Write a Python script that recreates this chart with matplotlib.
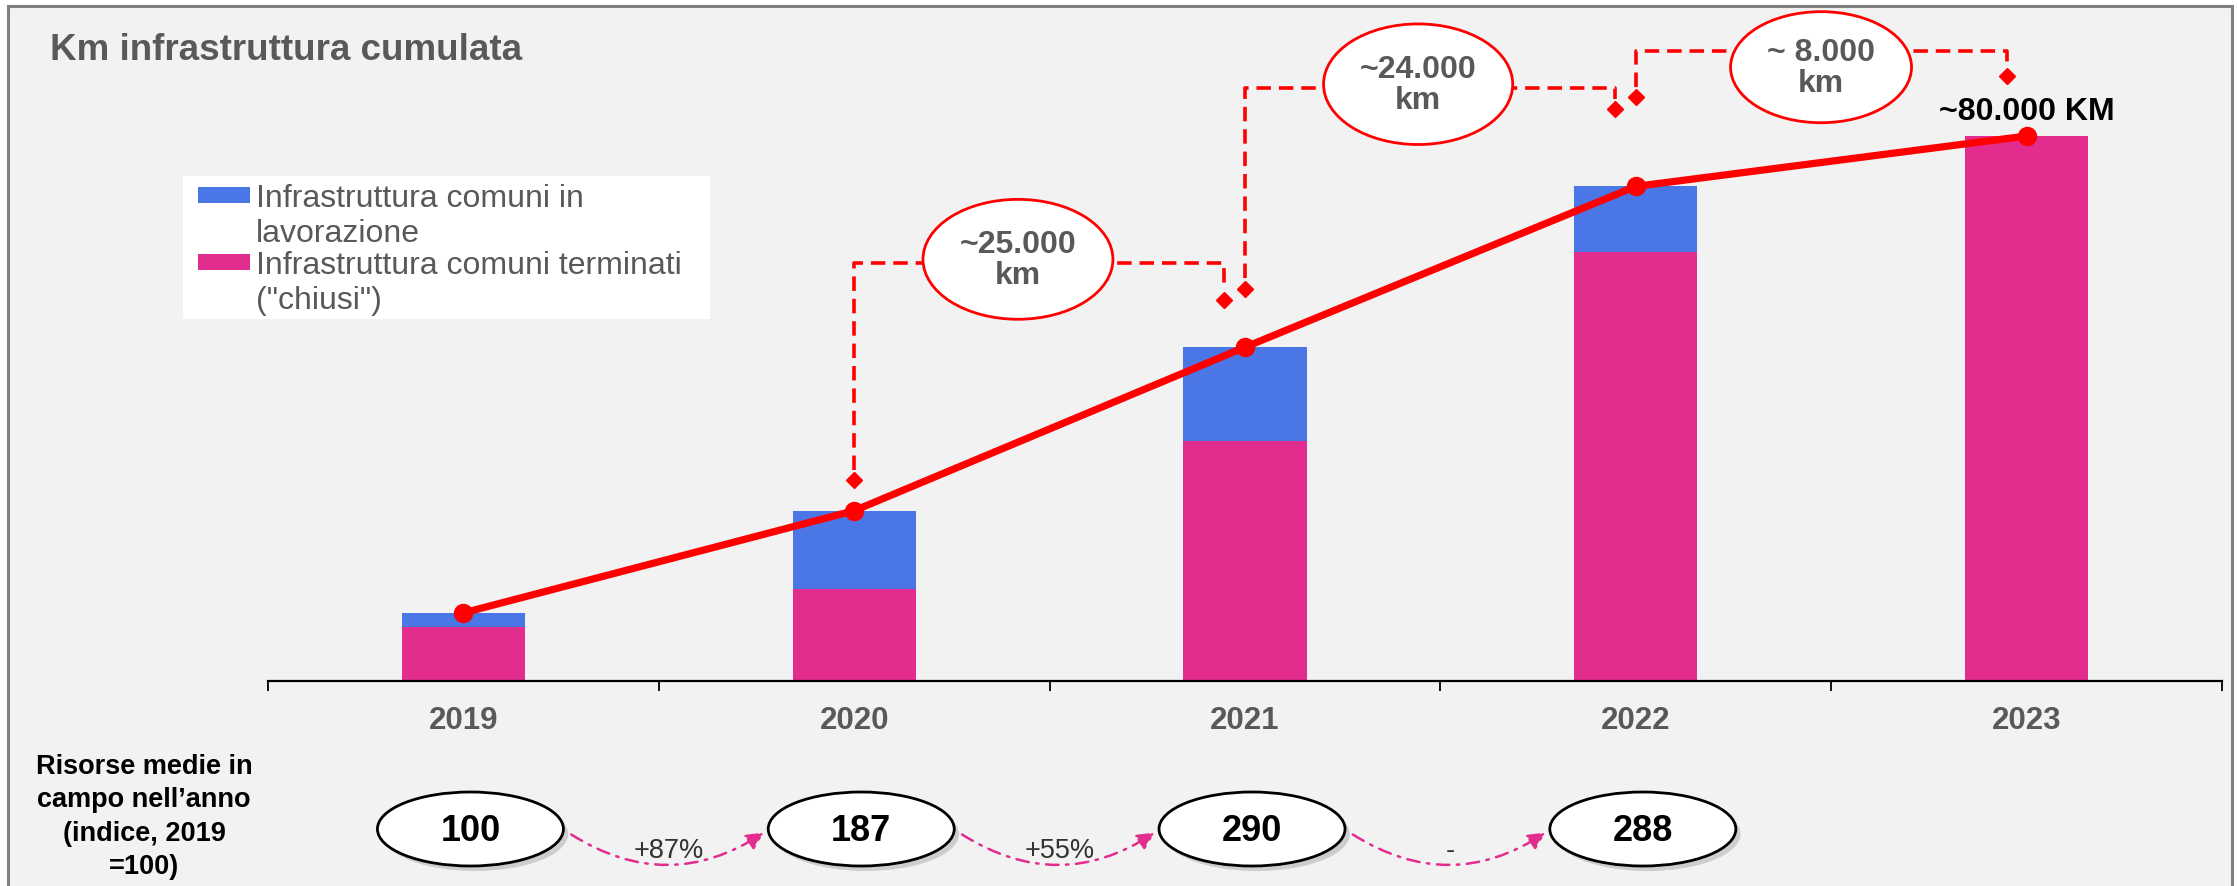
import matplotlib
matplotlib.use('Agg')
import matplotlib.pyplot as plt
from matplotlib.patches import Ellipse, Rectangle, FancyArrowPatch
from matplotlib.transforms import blended_transform_factory
import numpy as np

plt.rcParams['font.family'] = ['Liberation Sans', 'DejaVu Sans']

# ---------------------------------------------------
# Data (km cumulati)
# ---------------------------------------------------
years = ['2019', '2020', '2021', '2022', '2023']
km_chiusi = [8000, 13500, 35300, 62900, 80000]       # comuni terminati ("chiusi")
km_lavorazione = [2000, 11500, 13700, 9700, 0]       # comuni in lavorazione
km_totale = [a + b for a, b in zip(km_chiusi, km_lavorazione)]

delta_labels = ['~25.000\nkm', '~24.000\nkm', '~ 8.000\nkm']
total_label = '~80.000 KM'

risorse = ['100', '187', '290', '288']
risorse_var = ['+87%', '+55%', '-']

legend_labels = [['Infrastruttura comuni in', 'lavorazione'],
                 ['Infrastruttura comuni terminati', '("chiusi")']]

PINK = '#e32d8e'
BLUE = '#4a77e5'
GREY = '#595959'

W, H = 2237, 887
fig = plt.figure(figsize=(W / 100, H / 100), dpi=100)
fig.patch.set_facecolor('white')

# ---------------------------------------------------
# background / overlay in pixel coords
# ---------------------------------------------------
bg = fig.add_axes([0, 0, 1, 1], zorder=0)
bg.set_xlim(0, W)
bg.set_ylim(H, 0)
bg.axis('off')
bg.add_patch(Rectangle((8, 7), 2224, 900, facecolor='#f2f2f2',
                       edgecolor='#808080', lw=2.2))

bg.text(50, 50, 'Km infrastruttura cumulata', fontsize=26.5, fontweight='bold',
        color=GREY, va='center', ha='left')

# legend box
bg.add_patch(Rectangle((183, 177), 527, 143, facecolor='white', edgecolor='none'))
for k, (col, lines) in enumerate(zip([BLUE, PINK], legend_labels)):
    y0 = 199 + k * 67
    bg.add_patch(Rectangle((198, y0 - 11), 52, 16, facecolor=col, edgecolor='none'))
    bg.text(256, y0, lines[0], fontsize=23, color=GREY, va='center', ha='left')
    bg.text(256, y0 + 35, lines[1], fontsize=23, color=GREY, va='center', ha='left')

# ---------------------------------------------------
# main chart
# ---------------------------------------------------
base_px, top_px = 682, 40
km_per_px = 80000 / 545.0
ax = fig.add_axes([268 / W, (H - base_px) / H, (2222 - 268) / W, (base_px - top_px) / H],
                  zorder=2)
ax.set_facecolor('none')
x = np.arange(len(years))
ax.set_xlim(-0.5, len(years) - 0.5)
ax.set_ylim(0, (base_px - top_px) * km_per_px)

ax.bar(x, km_chiusi, width=0.315, color=PINK, zorder=2)
ax.bar(x, km_lavorazione, bottom=km_chiusi, width=0.315, color=BLUE, zorder=2)
ax.plot(x, km_totale, '-o', color='red', lw=5.2, ms=13, zorder=4, clip_on=False)

for s in ['left', 'right', 'top']:
    ax.spines[s].set_visible(False)
ax.spines['bottom'].set_linewidth(1.6)
ax.set_yticks([])
ax.set_xticks(x)
ax.set_xticklabels(years, fontsize=22.5, fontweight='bold', color=GREY)
ax.tick_params(axis='x', which='major', length=0, pad=17)
ax.set_xticks(np.arange(-0.5, len(years), 1), minor=True)
ax.tick_params(axis='x', which='minor', length=7.5, width=1.3, direction='out')

# brackets with deltas
def bracket(x0, y0, x1, y1, ytop):
    ax.plot([x0, x0, x1, x1], [y0 + 1500, ytop, ytop, y1 + 1500], color='red',
            lw=2.6, dashes=(4, 2.2), clip_on=False, zorder=3)
    ax.plot([x0, x1], [y0, y1], 'D', color='red', ms=8.5, clip_on=False, zorder=3)

bracket(1.0, 29500, 1.946, 56000, 61400)
bracket(2.0, 57600, 2.947, 83900, 87100)
bracket(3.0, 85700, 3.95, 88800, 92500)

ell_pos = [(1.419, 61900, 0.486, 17600), (2.443, 87600, 0.484, 17700),
           (3.474, 90100, 0.463, 16300)]
for (cx, cy, ew, eh), lab in zip(ell_pos, delta_labels):
    ax.add_patch(Ellipse((cx, cy), ew, eh, facecolor='white', edgecolor='red',
                         lw=2, clip_on=False, zorder=5))
    ax.text(cx, cy, lab, ha='center', va='center', fontsize=23, fontweight='bold',
            color=GREY, linespacing=1.05, zorder=6)

ax.text(4.0, 83600, total_label, ha='center', va='center', fontsize=23,
        fontweight='bold', color='black', zorder=6)

# ---------------------------------------------------
# risorse medie in campo
# ---------------------------------------------------
bg.text(144, 817, 'Risorse medie in\ncampo nell\u2019anno\n(indice, 2019\n=100)',
        ha='center', va='center', fontsize=19.5, fontweight='bold', color='black',
        linespacing=1.38)

trans = blended_transform_factory(ax.transData, bg.transData)
for i, r in enumerate(risorse):
    cx = i + 0.018
    bg.add_patch(Ellipse((cx + 0.012, 835), 0.476, 74, transform=trans,
                         facecolor='#a0a0a0', edgecolor='none', alpha=0.45, zorder=1))
    bg.add_patch(Ellipse((cx, 830), 0.476, 74, transform=trans, facecolor='white',
                         edgecolor='black', lw=2, zorder=2))
    bg.text(cx, 832, r, transform=trans, ha='center', va='center', fontsize=26,
            fontweight='bold', color='black', zorder=3)

for i, v in enumerate(risorse_var):
    arr = FancyArrowPatch((i + 0.27, 834), (i + 0.775, 832), transform=trans,
                          connectionstyle='arc3,rad=0.33', arrowstyle='-|>',
                          mutation_scale=26, color=PINK, lw=1.8,
                          linestyle=(0, (5, 3, 1, 3)), zorder=2)
    bg.add_patch(arr)
    bg.text(i + 0.525, 851, v, transform=trans, ha='center', va='center',
            fontsize=19.5, color='#333333', zorder=3)

plt.savefig('out.png', dpi=100)
